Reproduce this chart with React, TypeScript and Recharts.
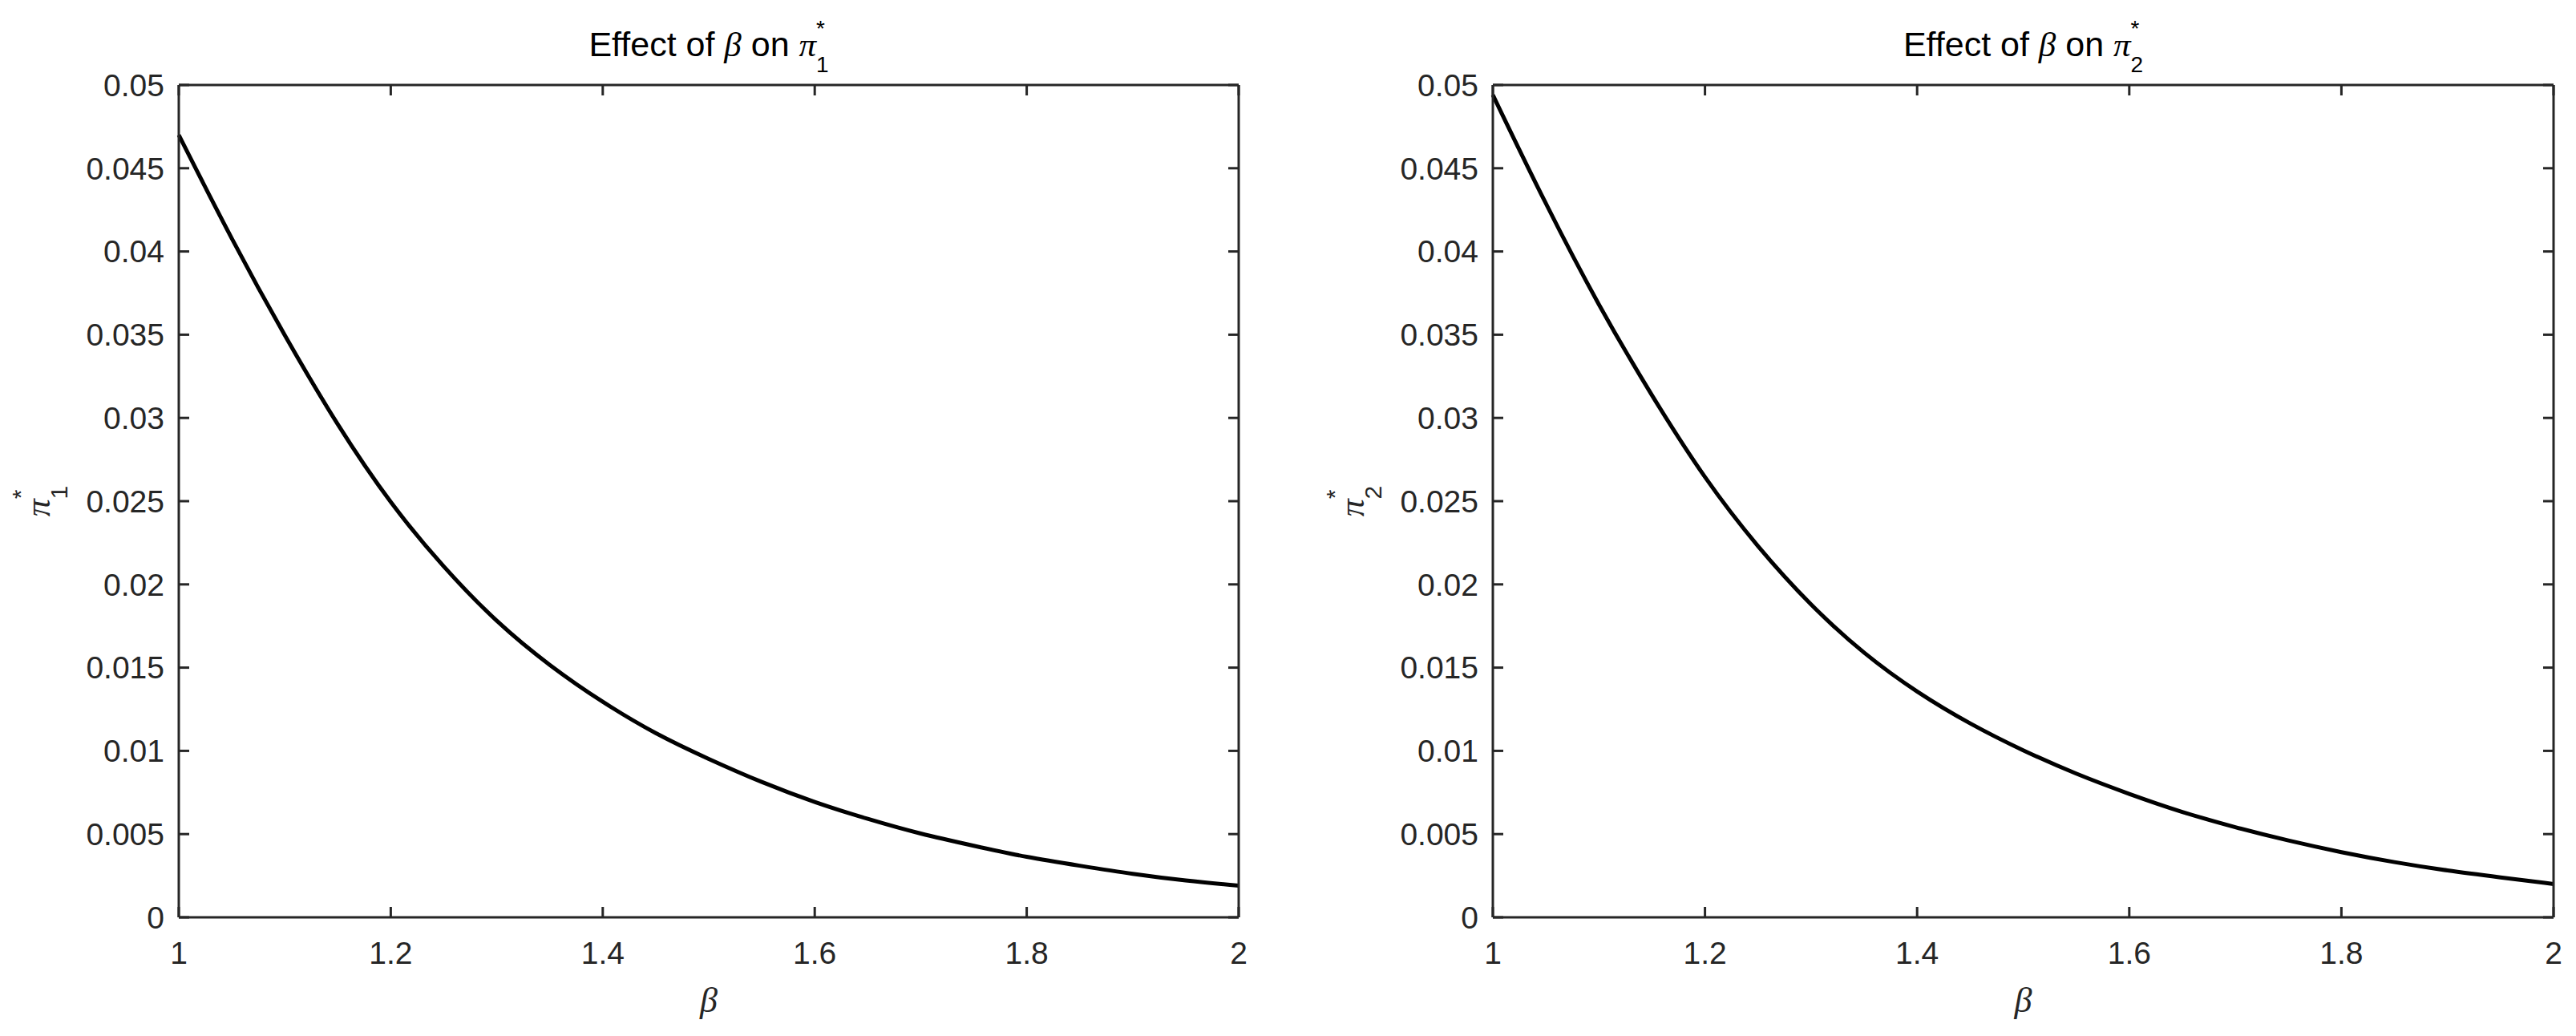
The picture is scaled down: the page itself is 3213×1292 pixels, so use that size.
import React from 'react';
import { LineChart, Line, XAxis, YAxis, Label } from 'recharts';

// values
const betaValues = [1, 1.05, 1.1, 1.15, 1.2, 1.25, 1.3, 1.35, 1.4, 1.45, 1.5, 1.55, 1.6, 1.65, 1.7, 1.75, 1.8, 1.85, 1.9, 1.95, 2];
const pi1Values = [
  0.047, 0.0407, 0.0349, 0.0295, 0.0248, 0.021, 0.0177, 0.0151, 0.0129, 0.011, 0.0095,
  0.0081, 0.0069, 0.0059, 0.005, 0.0043, 0.0036, 0.0031, 0.0026, 0.0022, 0.0019,
];
const pi2Values = [
  0.0494, 0.0428, 0.0367, 0.0313, 0.0263, 0.0222, 0.0187, 0.0158, 0.0135, 0.0116, 0.01,
  0.0086, 0.0074, 0.0063, 0.0054, 0.0046, 0.0039, 0.0033, 0.0028, 0.0024, 0.002,
];

const betaTicks = [1, 1.2, 1.4, 1.6, 1.8, 2];
const piTicks = [0, 0.005, 0.01, 0.015, 0.02, 0.025, 0.03, 0.035, 0.04, 0.045, 0.05];

const AXIS_COLOR = '#262626';
const FONT = '"Liberation Sans", Arial, Helvetica, sans-serif';
const GREEK = '"Liberation Serif", "Times New Roman", serif';
const TICK_FONT = 39;
const TICK_LEN = 13;

const axisLine = { stroke: AXIS_COLOR, strokeWidth: 3 };

// MATLAB style: tick marks point into the plot box
const makeTick = (side: string, withLabel: boolean) => (props: any) => {
  const { x, y, payload } = props;
  let line = null;
  let label = null;
  if (side === 'left') {
    line = <line x1={x} x2={x + TICK_LEN} y1={y} y2={y} stroke={AXIS_COLOR} strokeWidth={3} />;
    if (withLabel) {
      label = (
        <text x={x - 18} y={y} dy="0.355em" textAnchor="end" fill={AXIS_COLOR} fontSize={TICK_FONT} fontFamily={FONT}>
          {String(payload.value)}
        </text>
      );
    }
  } else if (side === 'right') {
    line = <line x1={x} x2={x - TICK_LEN} y1={y} y2={y} stroke={AXIS_COLOR} strokeWidth={3} />;
  } else if (side === 'bottom') {
    line = <line x1={x} x2={x} y1={y} y2={y - TICK_LEN} stroke={AXIS_COLOR} strokeWidth={3} />;
    if (withLabel) {
      label = (
        <text x={x} y={y + 58} textAnchor="middle" fill={AXIS_COLOR} fontSize={TICK_FONT} fontFamily={FONT}>
          {String(payload.value)}
        </text>
      );
    }
  } else {
    line = <line x1={x} x2={x} y1={y} y2={y + TICK_LEN} stroke={AXIS_COLOR} strokeWidth={3} />;
  }
  return (
    <g>
      {line}
      {label}
    </g>
  );
};

function Panel({ values, sub, width, marginLeft, marginRight }: any) {
  const data = betaValues.map((b, i) => ({ beta: b, pi: values[i] }));

  const renderTitle = ({ viewBox }: any) => {
    const cx = viewBox.x + viewBox.width / 2;
    return (
      <text x={cx} y={70} textAnchor="middle" fontFamily={FONT} fontSize={43} fill="#000">
        {'Effect of '}
        <tspan fontFamily={GREEK} fontStyle="italic">β</tspan>
        {' on '}
        <tspan fontFamily={GREEK} fontStyle="italic">π</tspan>
        <tspan fontSize={28} dy={-25}>*</tspan>
        <tspan fontSize={28} dx={-11} dy={45}>{sub}</tspan>
      </text>
    );
  };

  const renderXLabel = ({ viewBox }: any) => {
    const cx = viewBox.x + viewBox.width / 2;
    return (
      <text x={cx} y={viewBox.y + 118} textAnchor="middle" fontFamily={GREEK} fontStyle="italic" fontSize={44} fill={AXIS_COLOR}>
        β
      </text>
    );
  };

  const renderYLabel = ({ viewBox }: any) => {
    const x = viewBox.x + viewBox.width - 161;
    const cy = viewBox.y + viewBox.height / 2;
    return (
      <text x={x} y={cy} transform={`rotate(-90, ${x}, ${cy})`} textAnchor="middle" fontFamily={FONT} fontSize={44} fill={AXIS_COLOR}>
        <tspan fontFamily={GREEK} fontStyle="italic">π</tspan>
        <tspan fontSize={30} dy={-26}>*</tspan>
        <tspan fontSize={30} dx={-12} dy={48}>{sub}</tspan>
      </text>
    );
  };

  return (
    <LineChart
      width={width}
      height={1292}
      data={data}
      margin={{ top: 105, right: marginRight, bottom: 88, left: marginLeft }}
    >
      <XAxis
        xAxisId="bottom"
        dataKey="beta"
        type="number"
        domain={[1, 2]}
        ticks={betaTicks}
        height={60}
        axisLine={axisLine}
        tickLine={false}
        tickSize={0}
        tickMargin={0}
        tick={makeTick('bottom', true)}
        interval={0}
      >
        <Label content={renderXLabel} />
      </XAxis>
      <XAxis
        xAxisId="top"
        orientation="top"
        dataKey="beta"
        type="number"
        domain={[1, 2]}
        ticks={betaTicks}
        height={1}
        axisLine={axisLine}
        tickLine={false}
        tickSize={0}
        tickMargin={0}
        tick={makeTick('top', false)}
        interval={0}
      >
        <Label content={renderTitle} />
      </XAxis>
      <YAxis
        yAxisId="left"
        dataKey="pi"
        type="number"
        domain={[0, 0.05]}
        ticks={piTicks}
        width={120}
        axisLine={axisLine}
        tickLine={false}
        tickSize={0}
        tickMargin={0}
        tick={makeTick('left', true)}
        interval={0}
      >
        <Label content={renderYLabel} />
      </YAxis>
      <YAxis
        yAxisId="right"
        orientation="right"
        dataKey="pi"
        type="number"
        domain={[0, 0.05]}
        ticks={piTicks}
        width={1}
        axisLine={axisLine}
        tickLine={false}
        tickSize={0}
        tickMargin={0}
        tick={makeTick('right', false)}
        interval={0}
      />
      <Line
        xAxisId="bottom"
        yAxisId="left"
        dataKey="pi"
        type="basis"
        stroke="#000"
        strokeWidth={5}
        dot={false}
        isAnimationActive={false}
      />
    </LineChart>
  );
}

export default function App() {
  return (
    <div style={{ position: 'absolute', left: 0, top: 0, width: 3213, height: 1292, background: '#fff' }}>
      <div style={{ position: 'absolute', left: 0, top: 0 }}>
        <Panel values={pi1Values} sub="1" width={1600} marginLeft={103} marginRight={54} />
      </div>
      <div style={{ position: 'absolute', left: 1600, top: 0 }}>
        <Panel values={pi2Values} sub="2" width={1613} marginLeft={142} marginRight={27} />
      </div>
    </div>
  );
}
